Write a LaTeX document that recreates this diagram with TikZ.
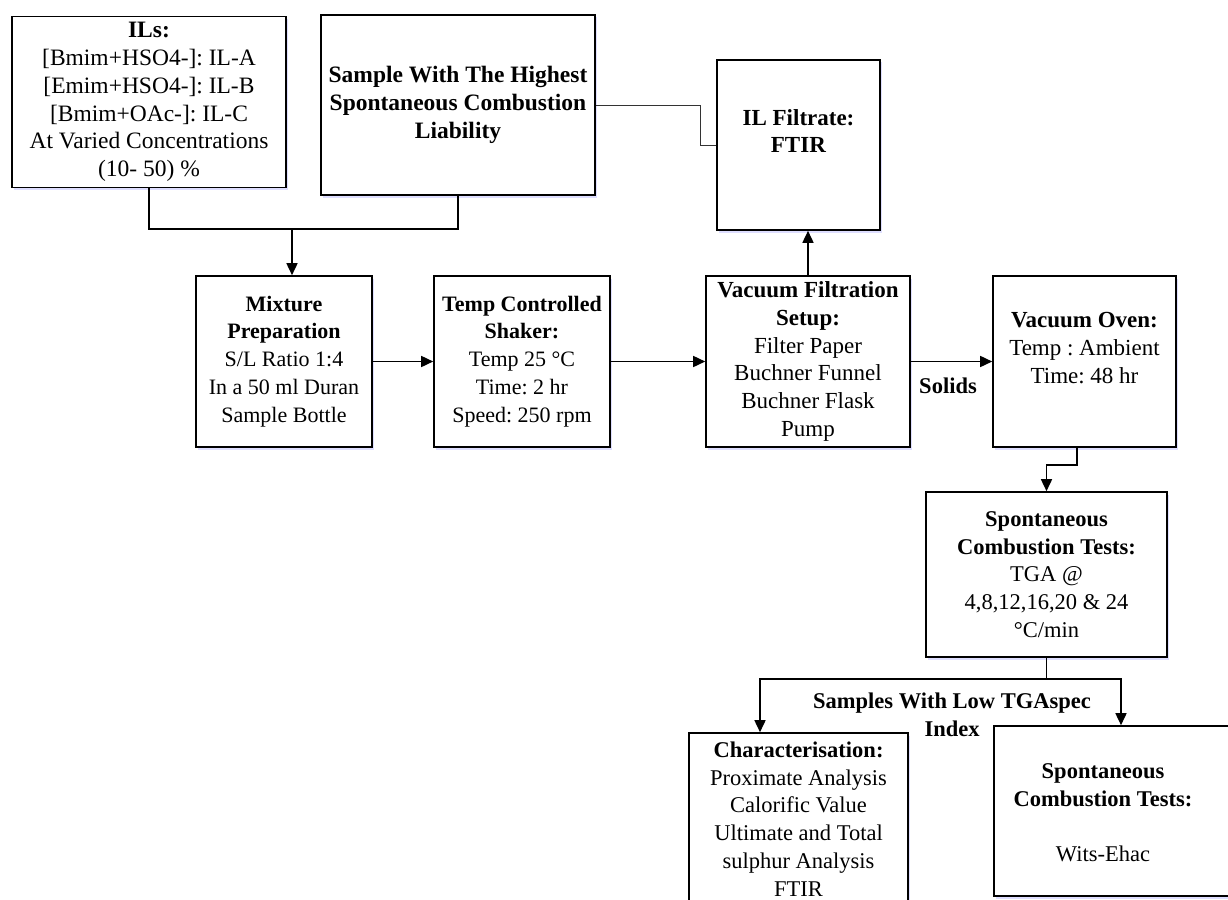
\documentclass[tikz,border=0pt]{standalone}
\usepackage{fontspec}
\setmainfont{Liberation Serif}
\usetikzlibrary{arrows.meta,shadows}
\frenchspacing
\begin{document}
\begin{tikzpicture}[x=1pt,y=-1pt,
  box/.style={draw, line width=1.6pt, fill=white, align=center, inner sep=2pt,
    font=\fontsize{22.5}{27.8}\selectfont,
    drop shadow={shadow xshift=1.5pt,shadow yshift=-2.5pt,fill=blue!25,opacity=0.5}},
  fs/.style={font=\fontsize{#1}{27.8}\selectfont},
  conn/.style={line width=1.6pt},
  thinconn/.style={line width=1pt, draw=black!80},
  arr/.style={conn,-{Triangle[length=12pt,width=11pt]}},
  lbl/.style={font=\fontsize{22.5}{27.8}\selectfont\bfseries, align=center, inner sep=0pt},
  txt/.style={font=\fontsize{22.5}{27.8}\selectfont, align=center, inner sep=0pt}]
\useasboundingbox (0,0) rectangle (1228,899);
\clip (0,0) rectangle (1228,899);
\fill[white] (0,0) rectangle (1228,899);

\node[box, fs=23.5, minimum width=274pt, minimum height=171pt] (ils) at (149,102)
  {\textbf{ILs:}\\{[}Bmim+HSO4-{]}: IL-A\\{[}Emim+HSO4-{]}: IL-B\\{[}Bmim+OAc-{]}: IL-C\\At Varied Concentrations\\(10- 50) \%};
\node[box, fs=23.5, minimum width=274pt, minimum height=180pt] (sample) at (458,105)
  {\textbf{Sample With The Highest}\\\textbf{Spontaneous Combustion}\\\textbf{Liability}};
\node[box, fs=23, minimum width=163pt, minimum height=170pt] (filt) at (798.5,145)
  {\textbf{IL Filtrate:}\\\textbf{FTIR}\\\mbox{}};
\node[box, fs=22, minimum width=176pt, minimum height=171pt] (mix) at (284,361.5)
  {\textbf{Mixture}\\\textbf{Preparation}\\S/L Ratio 1:4\\In a 50 ml Duran\\Sample Bottle};
\node[box, fs=22, minimum width=176pt, minimum height=171pt] (shaker) at (522,361.5)
  {\textbf{Temp Controlled}\\\textbf{Shaker:}\\Temp 25 °C\\Time: 2 hr\\Speed: 250 rpm};
\node[box, fs=23, minimum width=204pt, minimum height=171pt] (vac) at (808,361.5)
  {\textbf{Vacuum Filtration}\\\textbf{Setup:}\\Filter Paper\\Buchner Funnel\\Buchner Flask\\Pump};
\node[box, fs=23, minimum width=183pt, minimum height=171pt] (oven) at (1084.5,361.5)
  {\textbf{Vacuum Oven:}\\Temp : Ambient\\Time: 48 hr\\\mbox{}};
\node[box, minimum width=241pt, minimum height=165pt] (tests) at (1046.5,574.5)
  {\textbf{Spontaneous}\\\textbf{Combustion Tests:}\\TGA @\\4,8,12,16,20 \& 24\\°C/min};
\node[box, minimum width=219pt, minimum height=172pt] (char) at (798.5,819)
  {\textbf{Characterisation:}\\Proximate Analysis\\Calorific Value\\Ultimate and Total\\sulphur Analysis\\FTIR};
\node[box, minimum width=246pt, minimum height=170pt] (sp2) at (1117,811) {};
\node[txt] (sp2t) at (1103,813)
  {\textbf{Spontaneous}\\\textbf{Combustion Tests:}\\\mbox{}\\Wits-Ehac};

% connectors
\coordinate (j1) at (292,229);
\draw[conn] (ils.south) |- (j1) -| (sample.south);
\draw[arr] (j1) -- (j1 |- mix.north);
\draw[thinconn] (sample.east) -- ++(105,0) |- (filt.west);
\draw[arr] (mix.east) -- (shaker.west);
\draw[arr] (shaker.east) -- (vac.west);
\draw[arr] (vac.north) -- (vac.north |- filt.south);
\draw[arr] (vac.east) -- (oven.west);
\node[lbl] (solids) at (948,386) {Solids};
\draw[arr] ([xshift=-7.5pt]oven.south) -- ++(0,17) -| (tests.north);
\coordinate (j2) at (1046.5,679);
\draw[conn] (tests.south) -- (j2);
\draw[arr] (j2) -| ([xshift=-38.5pt]char.north);
\draw[arr] (j2) -| ([xshift=4pt]sp2.north);
\node[lbl] (lowlbl) at (952,715) {Samples With Low TGAspec\\Index};
\end{tikzpicture}
\end{document}
